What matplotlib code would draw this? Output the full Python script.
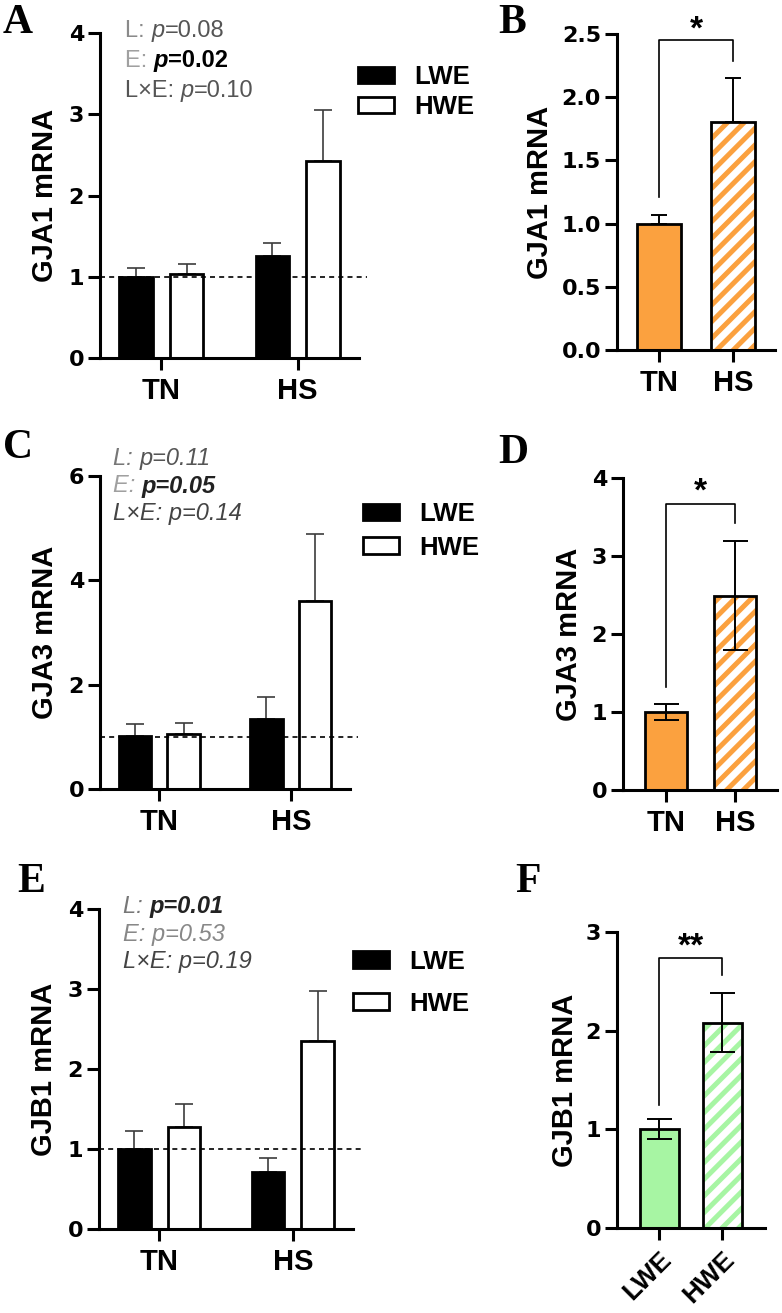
import matplotlib
matplotlib.use("Agg")
import matplotlib.pyplot as plt
from matplotlib.text import Annotation
import numpy as np

plt.rcParams['font.family'] = ['Liberation Sans', 'DejaVu Sans']
plt.rcParams['hatch.linewidth'] = 3.6

# data
groups = ['TN', 'HS']
water = ['LWE', 'HWE']

gja1_lwe = [1.00, 1.26]
gja1_lwe_err = [0.11, 0.16]
gja1_hwe = [1.04, 2.43]
gja1_hwe_err = [0.12, 0.62]
gja1_heat = [1.00, 1.80]
gja1_heat_err = [0.07, 0.35]

gja3_lwe = [1.01, 1.34]
gja3_lwe_err = [0.23, 0.42]
gja3_hwe = [1.06, 3.61]
gja3_hwe_err = [0.20, 1.28]
gja3_heat = [1.00, 2.49]
gja3_heat_err = [0.10, 0.70]

gjb1_lwe = [1.00, 0.71]
gjb1_lwe_err = [0.23, 0.18]
gjb1_hwe = [1.27, 2.35]
gjb1_hwe_err = [0.29, 0.62]
gjb1_water = [1.00, 2.08]
gjb1_water_err = [0.10, 0.30]

ORANGE = '#FBA13F'
GREEN = '#A7F5A3'
W, H = 782, 1313

fig = plt.figure(figsize=(W / 100, H / 100), dpi=100)


def px_axes(l, t, r, b):
    return fig.add_axes([l / W, 1 - b / H, (r - l) / W, (b - t) / H])


def style_axes(ax, ymax, yticks, ytick_labels, ylabel, label_x, xlabels, rot=0):
    for s in ['top', 'right']:
        ax.spines[s].set_visible(False)
    for s in ['left', 'bottom']:
        ax.spines[s].set_linewidth(2.2)
    ax.set_ylim(0, ymax)
    ax.set_yticks(yticks)
    ax.set_yticklabels(ytick_labels, fontfamily='DejaVu Sans', fontweight='bold', fontsize=16)
    ax.set_xticks([0, 1])
    if rot:
        ax.set_xticklabels(xlabels, fontsize=19, fontweight='bold', rotation=45,
                           ha='right', rotation_mode='anchor')
    else:
        ax.set_xticklabels(xlabels, fontsize=21, fontweight='bold')
    ax.tick_params(axis='both', direction='out', length=8.5, width=2.2, pad=3)
    ax.tick_params(axis='x', pad=5)
    ax.set_ylabel(ylabel, fontsize=21, fontweight='bold')
    ax.yaxis.set_label_coords(label_x, 0.5)


def grouped(ax, lwe, lwe_err, hwe, hwe_err):
    x = np.arange(len(groups))
    off, w = 0.185, 0.245
    ax.errorbar(x - off, lwe, yerr=[np.zeros(2), lwe_err], fmt='none', ecolor='#3c3c3c',
                elinewidth=1.2, capsize=6.5, capthick=1.2, zorder=1)
    ax.errorbar(x + off, hwe, yerr=[np.zeros(2), hwe_err], fmt='none', ecolor='#3c3c3c',
                elinewidth=1.2, capsize=6.5, capthick=1.2, zorder=1)
    ax.bar(x - off, lwe, w, color='black', edgecolor='black', linewidth=2, zorder=2, label='LWE')
    ax.bar(x + off, hwe, w, color='white', edgecolor='black', linewidth=2, zorder=2, label='HWE')
    ax.axhline(1, xmin=0, xmax=1.03, color='black', lw=1.2, ls=(0, (3, 2.5)), zorder=3, clip_on=False)
    ax.set_xlim(-0.45, 1.45)


def legend(ax, x, y, spacing):
    ax.legend(loc='center left', bbox_to_anchor=(x, y), frameon=False, borderpad=0,
              borderaxespad=0, handlelength=1.4, handleheight=0.6, handletextpad=0.8,
              labelspacing=spacing, prop={'weight': 'bold', 'size': 18.5})


def paired(ax, vals, errs, color, both=False, width=0.6):
    x = np.arange(len(vals))
    low = np.array(errs) if both else np.zeros(len(vals))
    ax.errorbar(x, vals, yerr=[low, errs], fmt='none', ecolor='black', elinewidth=1.4,
                capsize=9 if both else 5.5, capthick=1.4, zorder=4 if both else 1)
    ax.bar(x[0], vals[0], width, color=color, edgecolor='black', linewidth=2, zorder=2)
    ax.bar(x[1], vals[1], width, color='white', edgecolor=color, hatch='//', linewidth=0, zorder=2)
    ax.bar(x[1], vals[1], width, color='none', edgecolor='black', linewidth=2, zorder=3)


def bracket(ax, top, left_end, right_end, stars, star_y):
    ax.plot([0, 0, 1, 1], [left_end, top, top, right_end], color='black', lw=1.2, clip_on=False)
    ax.annotate(stars, xy=(0.5, star_y), xytext=(0, -13), textcoords='offset points',
                ha='center', va='baseline', fontsize=24, fontweight='bold', annotation_clip=False)


def stat_text(x, y, lines, dy):
    # each line: list of (text, colour, weight, style) pieces drawn one after the other
    for i, pieces in enumerate(lines):
        last = None
        for txt, col, wt, st in pieces:
            kw = dict(fontsize=17, color=col, fontweight=wt, fontstyle=st, va='bottom', ha='left')
            if last is None:
                last = fig.text(x / W, 1 - (y + i * dy) / H, txt, **kw)
            else:
                last = fig.add_artist(Annotation(txt, xy=(1, 0), xycoords=last, **kw))


# ---- A ----
axA = px_axes(100, 33, 359, 358)
grouped(axA, gja1_lwe, gja1_lwe_err, gja1_hwe, gja1_hwe_err)
style_axes(axA, 4, [0, 1, 2, 3, 4], ['0', '1', '2', '3', '4'], 'GJA1 mRNA', -0.158, groups)
legend(axA, 0.996, 0.818, 0.25)

# ---- B ----
axB = px_axes(617, 34, 775, 350)
paired(axB, gja1_heat, gja1_heat_err, ORANGE)
axB.set_xlim(-0.57, 1.57)
style_axes(axB, 2.5, [0, 0.5, 1.0, 1.5, 2.0, 2.5], ['0.0', '0.5', '1.0', '1.5', '2.0', '2.5'],
           'GJA1 mRNA', -0.40, groups)
bracket(axB, 2.45, 1.21, 2.29, '*', 2.61)

# ---- C ----
axC = px_axes(100, 476, 350, 789)
grouped(axC, gja3_lwe, gja3_lwe_err, gja3_hwe, gja3_hwe_err)
style_axes(axC, 6, [0, 2, 4, 6], ['0', '2', '4', '6'], 'GJA3 mRNA', -0.164, groups)
legend(axC, 1.052, 0.825, 0.38)

# ---- D ----
axD = px_axes(623, 478, 777, 790)
paired(axD, gja3_heat, gja3_heat_err, ORANGE, both=True)
axD.set_xlim(-0.62, 1.61)
style_axes(axD, 4, [0, 1, 2, 3, 4], ['0', '1', '2', '3', '4'], 'GJA3 mRNA', -0.26, groups)
bracket(axD, 3.67, 1.32, 3.42, '*', 3.94)

# ---- E ----
axE = px_axes(99, 909, 353, 1229)
grouped(axE, gjb1_lwe, gjb1_lwe_err, gjb1_hwe, gjb1_hwe_err)
style_axes(axE, 4, [0, 1, 2, 3, 4], ['0', '1', '2', '3', '4'], 'GJB1 mRNA', -0.161, groups)
legend(axE, 1.0, 0.77, 0.7)

# ---- F ----
axF = px_axes(617, 932, 765, 1228)
paired(axF, gjb1_water, gjb1_water_err, GREEN, both=True, width=0.62)
axF.set_xlim(-0.667, 1.68)
style_axes(axF, 3, [0, 1, 2, 3], ['0', '1', '2', '3'], 'GJB1 mRNA', -0.257, water, rot=45)
bracket(axF, 2.74, 1.25, 2.56, '**', 2.94)

# ---- stats text ----
G1, G2, G3 = '#8a8a8a', '#555555', '#222222'
stat_text(125, 42, [
    [('L: ', G1, 'normal', 'normal'), ('p', G2, 'normal', 'italic'), ('=0.08', G2, 'normal', 'normal')],
    [('E: ', '#a0a0a0', 'normal', 'normal'), ('p', 'black', 'bold', 'italic'), ('=0.02', 'black', 'bold', 'normal')],
    [('L×E: ', G2, 'normal', 'normal'), ('p', G2, 'normal', 'italic'), ('=0.10', G2, 'normal', 'normal')],
], 30)
stat_text(113, 470, [
    [('L: ', '#777777', 'normal', 'italic'), ('p=0.11', G2, 'normal', 'italic')],
    [('E: ', '#a0a0a0', 'normal', 'italic'), ('p=0.05', G3, 'bold', 'italic')],
    [('L×E: p=0.14', '#444444', 'normal', 'italic')],
], 27.5)
stat_text(123, 918, [
    [('L: ', '#777777', 'normal', 'italic'), ('p=0.01', G3, 'bold', 'italic')],
    [('E: p=0.53', '#888888', 'normal', 'italic')],
    [('L×E: p=0.19', '#444444', 'normal', 'italic')],
], 27.5)

# ---- panel letters ----
for lab, x, y in [('A', 3, 33), ('B', 498, 33), ('C', 3, 458), ('D', 498, 463), ('E', 17, 892), ('F', 515, 892)]:
    fig.text(x / W, 1 - y / H, lab, fontfamily='Liberation Serif', fontweight='bold',
             fontsize=30, va='baseline', ha='left')

fig.savefig('out.png', dpi=100)
